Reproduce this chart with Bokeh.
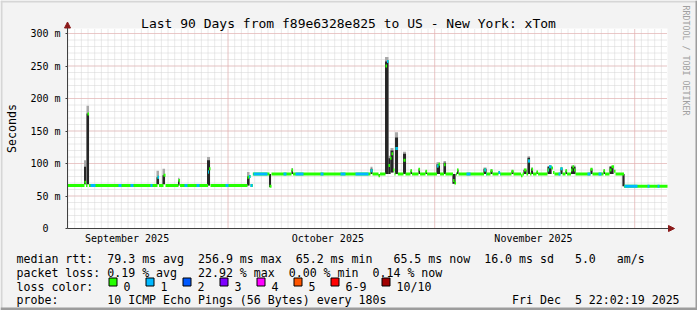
from math import pi
from bokeh.plotting import figure
from bokeh.models import (Range1d, FixedTicker, Label, Arrow, NormalHead, BoxAnnotation,
                          ColumnDataSource)
from bokeh.embed import file_html
from bokeh.resources import INLINE

# ---------------- data ----------------
TITLE = "Last 90 Days from f89e6328e825 to US - New York: xTom"

# x axis: days since the start of the window (Sep 6 22:02)
month_label_days = [8.93, 39.05, 69.9]
month_labels = ["September 2025", "October 2025", "November 2025"]
month_start_days = [24.08, 55.08, 85.08]
day_grid = [0.08 + k for k in range(90)]

y_ticks = [0, 50, 100, 150, 200, 250, 300]
y_tick_labels = ["0\u00a0\u00a0", "50 m", "100 m", "150 m", "200 m", "250 m", "300 m"]
y_minor = list(range(10, 310, 10))

# median RTT (ms) as steps: value holds from median_days[i] to median_days[i+1]
median_days = [0, 2.55, 2.78, 3.0, 3.23, 13.5, 13.73, 14.4, 14.7, 16.65, 16.88, 21.08,
               21.23, 21.45, 27.0, 27.23, 27.45, 27.8, 30.3, 30.6, 33.6, 33.83, 45.45,
               45.75, 46.65, 46.88, 47.7, 47.93, 48.15, 48.38, 48.6, 48.83, 49.05, 49.2,
               49.55, 50.4, 50.7, 51.45, 51.68, 52.65, 52.88, 53.7, 53.93, 55.43, 55.65,
               55.88, 56.48, 56.7, 57.83, 58.05, 58.28, 58.43, 58.65, 62.48, 62.78, 63.45,
               63.75, 64.65, 64.88, 66.6, 66.9, 68.03, 68.25, 68.48, 68.85, 69.08, 69.38,
               69.6, 69.83, 70.35, 70.58, 72.0, 72.23, 72.6, 72.83, 73.05, 73.95, 74.25,
               74.7, 74.93, 75.53, 75.75, 75.98, 76.2, 78.45, 78.75, 80.4, 80.63, 81.3,
               81.6, 81.98, 82.2, 83.48, 90]
median_ms = [66, 71, 66, 176, 66, 79, 66, 82, 66, 74, 66, 87, 92, 66, 79, 80, 66, 84, 65,
             84, 90, 84, 89, 84, 81, 84, 250, 256.9, 97, 108, 115, 90, 84, 123, 84, 105,
             84, 89, 84, 91, 84, 88, 84, 96, 99, 84, 98, 84, 74, 70, 84, 90, 84, 90, 84,
             89, 84, 86, 84, 88, 84, 81, 84, 90, 84, 104, 84, 91, 84, 87, 84, 90, 95, 93,
             86, 84, 92, 84, 89, 84, 90, 95, 90, 84, 91, 84, 89, 84, 90, 95, 88, 84, 65, 65]

# intervals with 1/10 packets lost (median drawn in the "1" colour)
loss1_start = [3.45, 7.65, 9.45, 12.45, 13.5, 17.55, 19.35, 21.08, 23.7, 27.23, 27.9,
               32.4, 34.2, 37.95, 40.95, 43.2, 45.45, 47.93, 49.2, 55.43, 59.85, 62.55,
               64.65, 69.08, 72.15, 73.65, 78.0, 79.65, 83.55, 87.0, 88.5]
loss1_end = [4.2, 8.1, 9.9, 12.75, 13.73, 18.0, 19.8, 21.23, 24.15, 27.75, 30.0,
             32.85, 35.4, 38.4, 41.7, 45.15, 45.75, 48.15, 49.55, 55.65, 60.45, 62.85,
             64.95, 69.38, 72.6, 74.25, 78.45, 80.1, 85.5, 87.3, 88.8]

# smoke (spread of the 10 pings) where it is visible
smoke_left = [2.48, 2.85, 13.35, 14.25, 16.58, 20.93, 26.93, 30.23, 33.6, 45.45, 47.63,
              48.15, 48.45, 49.13, 50.33, 55.35, 56.4, 57.75, 62.4, 68.4, 69.0, 69.53,
              72.0, 81.3, 83.25, 51.45, 52.65, 53.7, 58.43, 63.45, 64.65, 66.6, 70.35,
              73.95, 74.7, 75.53, 78.45, 80.4, 46.65]
smoke_right = [2.78, 3.23, 13.73, 14.63, 16.8, 21.38, 27.3, 30.53, 33.83, 45.75, 48.15,
               48.45, 48.9, 49.58, 50.78, 55.88, 56.78, 58.2, 62.85, 68.85, 69.38, 69.83,
               72.6, 81.9, 83.55, 51.68, 52.88, 53.93, 58.65, 63.75, 64.88, 66.9, 70.58,
               74.25, 74.93, 76.2, 78.75, 80.63, 46.88]
smoke_low = [68, 68, 68, 68, 66, 66, 66, 64, 84, 84, 84, 84, 86, 84, 84, 84, 84, 69, 84,
             84, 84, 84, 84, 84, 65, 84, 84, 84, 84, 84, 84, 84, 84, 84, 84, 84, 84, 84,
             81]
smoke_high = [95, 177, 79, 82, 74, 105, 80, 84, 90, 92, 257, 108, 120, 140, 115, 99, 101,
              84, 92, 90, 109, 92, 95, 95, 84, 89, 91, 88, 90, 89, 86, 88, 87, 92, 89, 95,
              91, 89, 84]
smoke_top = [105, 189, 89, 92, 78, 110, 87, 84, 93, 95, 264, 112, 124, 148, 118, 102, 104,
             84, 94, 92, 111, 94, 96, 96, 84, 91, 93, 90, 92, 91, 88, 90, 89, 94, 91, 97,
             93, 91, 84]

loss_names = ["0", "1", "2", "3", "4", "5", "6-9", "10/10"]
loss_colors = ["#26ff00", "#00b8ff", "#0059ff", "#7e00ff", "#ff00ff", "#ff5500",
               "#ff0000", "#a10000"]

rtt_stats = ["79.3", "256.9", "65.2", "65.5", "16.0", "5.0"]
loss_stats = ["0.19", "22.92", "0.00", "0.14"]
probe_text = "10 ICMP Echo Pings (56 Bytes) every 180s"
stamp = "Fri Dec  5 22:02:19 2025"

# ---------------- layout ----------------
W, H = 697, 310
FL, FB = 67, 228      # plot area left / bottom (pixels)
X_MAX, Y_MAX = 90.0, 307.7
PX_DAY = 600 / X_MAX
PX_MS = 200 / Y_MAX
FONT = "DejaVu Sans Mono"
BG = "#f3f3f3"
NB = "\u00a0"


def dx(px):
    return (px - FL) / PX_DAY


def dy(py):
    return (FB - py) / PX_MS


# the frame covers the whole picture; the axes sit at fixed locations inside it
p = figure(width=W, height=H, x_range=Range1d(dx(0), dx(W)), y_range=Range1d(dy(H), dy(0)),
           output_backend="svg", toolbar_location=None, min_border=0,
           background_fill_color=BG, border_fill_color=BG, outline_line_color=None)
p.title.visible = False
p.xgrid.visible = False
p.ygrid.visible = False

# white canvas
p.add_layout(BoxAnnotation(left=0, right=X_MAX, bottom=0, top=Y_MAX, fill_color="white",
                           fill_alpha=1, line_color=None, level="underlay"))

# grid
MINOR = "#d4d4d4"
MAJOR = "#eaa6a6"
p.segment(x0=day_grid, y0=0, x1=day_grid, y1=Y_MAX, line_color=MINOR, line_dash="1 1")
p.segment(x0=0, y0=y_minor, x1=X_MAX, y1=y_minor, line_color=MINOR, line_dash="1 1")
p.segment(x0=month_start_days, y0=0, x1=month_start_days, y1=Y_MAX, line_color=MAJOR,
          line_dash="1 1")
p.segment(x0=0, y0=y_ticks[1:], x1=X_MAX, y1=y_ticks[1:], line_color=MAJOR,
          line_dash="1 1")

# axes
xa = p.xaxis[0]
xa.fixed_location = 0
xa.ticker = FixedTicker(ticks=month_label_days)
xa.bounds = (0, X_MAX)
xa.major_label_overrides = {d: t for d, t in zip(month_label_days, month_labels)}
xa.major_tick_line_color = None
xa.minor_tick_line_color = None
xa.major_tick_out = 0
xa.major_tick_in = 0
xa.axis_line_color = None
xa.major_label_standoff = 4
xa.major_label_text_font = FONT
xa.major_label_text_font_size = "10px"
xa.major_label_text_color = "black"

ya = p.yaxis[0]
ya.fixed_location = 0
ya.ticker = FixedTicker(ticks=y_ticks)
ya.bounds = (0, Y_MAX)
ya.major_label_overrides = {v: t for v, t in zip(y_ticks, y_tick_labels)}
ya.major_tick_out = 2
ya.major_tick_in = 0
ya.major_tick_line_color = "#404040"
ya.minor_tick_line_color = None
ya.axis_line_color = None
ya.major_label_standoff = 5
ya.major_label_text_font = FONT
ya.major_label_text_font_size = "10px"
ya.major_label_text_color = "black"
ya.axis_label = "Seconds"
ya.axis_label_text_font = FONT
ya.axis_label_text_font_size = "11.6px"
ya.axis_label_text_font_style = "normal"
ya.axis_label_text_color = "black"
ya.axis_label_standoff = 8

# smoke
smoke = ColumnDataSource(dict(l=smoke_left, r=smoke_right, b=smoke_low, h=smoke_high,
                              t=smoke_top))
p.quad(left="l", right="r", bottom="b", top="t", source=smoke, fill_color="#a8a8a8",
       line_color=None)
p.quad(left="l", right="r", bottom="b", top="h", source=smoke, fill_color="#262626",
       line_color=None)

# median (short thick bars, coloured by loss)
med = ColumnDataSource(dict(x0=median_days[:-1], x1=median_days[1:], y=median_ms[:-1]))
p.segment(x0="x0", y0="y", x1="x1", y1="y", source=med, line_width=3,
          line_color=loss_colors[0], line_cap="butt")

bx0, bx1, by = [], [], []
for a, b in zip(loss1_start, loss1_end):
    for i in range(len(median_days) - 1):
        lo = max(a, median_days[i])
        hi = min(b, median_days[i + 1])
        if hi > lo:
            bx0.append(lo)
            bx1.append(hi)
            by.append(median_ms[i])
blue = ColumnDataSource(dict(x0=bx0, x1=bx1, y=by))
p.segment(x0="x0", y0="y", x1="x1", y1="y", source=blue, line_width=3,
          line_color=loss_colors[1], line_cap="butt")

# axis lines with arrow heads
AX = "#404040"
AR = "#8b1a1a"
p.add_layout(Arrow(end=NormalHead(size=6, fill_color=AR, line_color=AR), x_start=0,
                   y_start=0, x_end=dx(674), y_end=0, line_color=AX, line_width=1))
p.add_layout(Arrow(end=NormalHead(size=6, fill_color=AR, line_color=AR), x_start=0,
                   y_start=0, x_end=0, y_end=dy(21.5), line_color=AX, line_width=1))


def text(px, py, s, size="11.6px", align="left", angle=0, color="black"):
    p.add_layout(Label(x=dx(px), y=dy(py), text=s, text_font=FONT, text_font_size=size,
                       text_align=align, text_baseline="alphabetic", angle=angle,
                       text_color=color))


text(348, 23.3, TITLE, size="13px", align="center")
text(685, 5, "RRDTOOL / TOBI OETIKER", size="8.3px", angle=-pi / 2, color="#a0a0a0")


# ---------------- legend lines ----------------
def fixed_cols(tokens):
    s = ""
    for c, t in tokens:
        s = s.ljust(c) + t
    return s.replace(" ", NB)


line1 = fixed_cols([(0, "median rtt:"), (13, f"{rtt_stats[0]} ms avg"),
                    (26, f"{rtt_stats[1]} ms max"), (40, f"{rtt_stats[2]} ms min"),
                    (54, f"{rtt_stats[3]} ms now"), (67, f"{rtt_stats[4]} ms sd"),
                    (80, rtt_stats[5]), (86, "am/s")])
line2 = fixed_cols([(0, "packet loss:"), (13, f"{loss_stats[0]} % avg"),
                    (26, f"{loss_stats[1]} % max"), (39, f"{loss_stats[2]} % min"),
                    (51, f"{loss_stats[3]} % now")])
line4 = fixed_cols([(0, "probe:"), (13, probe_text), (71, stamp)])

text(16, 258, line1)
text(16, 272, line2)
text(16, 286, "loss color:")
text(16, 299.5, line4)

sw_x = [108.5, 145.5, 182.5, 219.5, 256.5, 293.5, 330.5, 381.5]
for x, name, c in zip(sw_x, loss_names, loss_colors):
    p.add_layout(BoxAnnotation(left=dx(x), right=dx(x + 8), top=dy(277.5),
                               bottom=dy(285.5), fill_color=c, fill_alpha=1,
                               line_color="black", line_alpha=1, line_width=1))
    text(x + 14.5, 286, name)

# shaded edges of the picture
for l, r, t, b, c in [(0, W, 0, 2, "#d6d6d6"), (0, 2, 0, H, "#d6d6d6"),
                      (0, W, 307, H, "#9c9c9c"), (695, W, 0, H, "#9c9c9c")]:
    p.add_layout(BoxAnnotation(left=dx(l), right=dx(r), top=dy(t), bottom=dy(b),
                               fill_color=c, fill_alpha=1, line_color=None))

open("out.html", "w").write(file_html(p, INLINE))
